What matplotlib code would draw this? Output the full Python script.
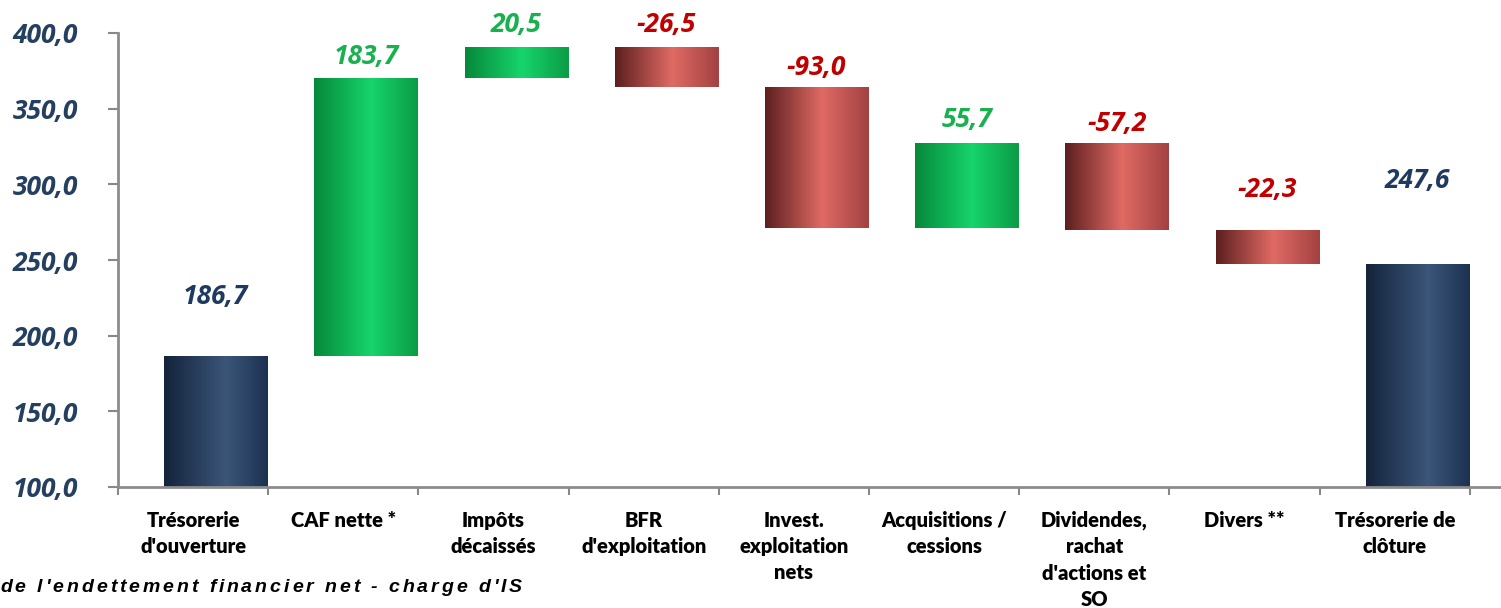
import numpy as np
import matplotlib.pyplot as plt
from matplotlib.colors import LinearSegmentedColormap

# waterfall data
categories = ["Trésorerie\nd'ouverture", "CAF nette *", "Impôts\ndécaissés",
              "BFR\nd'exploitation", "Invest.\nexploitation\nnets",
              "Acquisitions /\ncessions", "Dividendes,\nrachat\nd'actions et\nSO",
              "Divers **", "Trésorerie de\nclôture"]
values = [186.7, 183.7, 20.5, -26.5, -93.0, 55.7, -57.2, -22.3, 247.6]
kinds = ['total', 'delta', 'delta', 'delta', 'delta', 'delta', 'delta', 'delta', 'total']
value_labels = ["186,7", "183,7", "20,5", "-26,5", "-93,0", "55,7", "-57,2", "-22,3", "247,6"]
yticks = [100, 150, 200, 250, 300, 350, 400]
footnote = "de l'endettement financier net - charge d'IS"

# label offset above bar top (points)
label_offsets = [43, 15, 16, 16, 14, 17, 14, 29, 60]

NAVY = ['#14233b', '#3b5679', '#1d3150']
GREEN = ['#06883a', '#17d46c', '#0b9c45']
RED = ['#5c1f1f', '#e06a64', '#a24242']
TXT = {'navy': '#1f3a5f', 'green': '#19b050', 'red': '#c00000'}
NUMFONT = dict(fontsize=19, fontweight='bold', fontstyle='italic', family='Open Sans')

fig = plt.figure(figsize=(15.01, 6.08), dpi=100)
ax = fig.add_axes([118 / 1501, 1 - 487 / 608, 1 - 118 / 1501, (487 - 33) / 608])

bottoms, heights, styles = [], [], []
running = 0.0
for v, k in zip(values, kinds):
    if k == 'total':
        bottoms.append(100)
        heights.append(v - 100)
        styles.append('navy')
        running = v
    else:
        lo = running if v > 0 else running + v
        bottoms.append(lo)
        heights.append(abs(v))
        styles.append('green' if v > 0 else 'red')
        running += v

x = np.arange(len(categories))
shift, width = 0.15, 0.686
bars = ax.bar(x + shift, heights, width=width, bottom=bottoms, color='none', edgecolor='none', zorder=2)

cmaps = {
    'navy': LinearSegmentedColormap.from_list('n', [(0, NAVY[0]), (0.6, NAVY[1]), (1, NAVY[2])]),
    'green': LinearSegmentedColormap.from_list('g', [(0, GREEN[0]), (0.55, GREEN[1]), (1, GREEN[2])]),
    'red': LinearSegmentedColormap.from_list('r', [(0, RED[0]), (0.55, RED[1]), (1, RED[2])]),
}
grad = np.linspace(0, 1, 256).reshape(1, -1)
for b, s in zip(bars, styles):
    x0, y0 = b.get_x(), b.get_y()
    im = ax.imshow(grad, cmap=cmaps[s], aspect='auto', zorder=2,
                   extent=[x0, x0 + b.get_width(), y0, y0 + b.get_height()])
    im.set_clip_path(b)

for b, s, lab, off in zip(bars, styles, value_labels, label_offsets):
    ax.annotate(lab, (b.get_x() + b.get_width() / 2, b.get_y() + b.get_height()),
                xytext=(0, off), textcoords='offset points', ha='center', va='center',
                color=TXT[s], **NUMFONT)

ax.set_xlim(-0.5, 8.707)
ax.set_ylim(100, 400)
ax.set_yticks(yticks)
ax.set_yticklabels([f"{t:.1f}".replace('.', ',') for t in yticks], color='#243f60', **NUMFONT)
ax.set_xticks(x)
ax.set_xticklabels(categories, fontsize=14.5, fontweight=800, family='Lato',
                   linespacing=1.45, va='top')
ax.set_xticks(np.arange(-0.5, 9.0, 1.0), minor=True)
ax.tick_params(axis='x', which='major', length=0, pad=17)
ax.tick_params(axis='x', which='minor', length=6, width=1.5, color='#888888')
ax.tick_params(axis='y', length=7, width=1.5, color='#888888', pad=22)

for side in ['top', 'right']:
    ax.spines[side].set_visible(False)
for side in ['left', 'bottom']:
    ax.spines[side].set_color('#8c8c8c')
    ax.spines[side].set_linewidth(2)

# footnote with wide letter spacing, drawn char by char
renderer = fig.canvas.get_renderer()
xpix, ypix, track = 0.0, 588, 2.9
for ch in footnote:
    t = fig.text(xpix / 1501, 1 - ypix / 608, ch, ha='left', va='center', fontsize=14,
                 fontweight='bold', fontstyle='italic', family='Liberation Sans')
    w = t.get_window_extent(renderer).width
    if ch == ' ':
        w = 14 * 100 / 72 * 0.278
    xpix += w + track

fig.savefig('out.png', dpi=100)
